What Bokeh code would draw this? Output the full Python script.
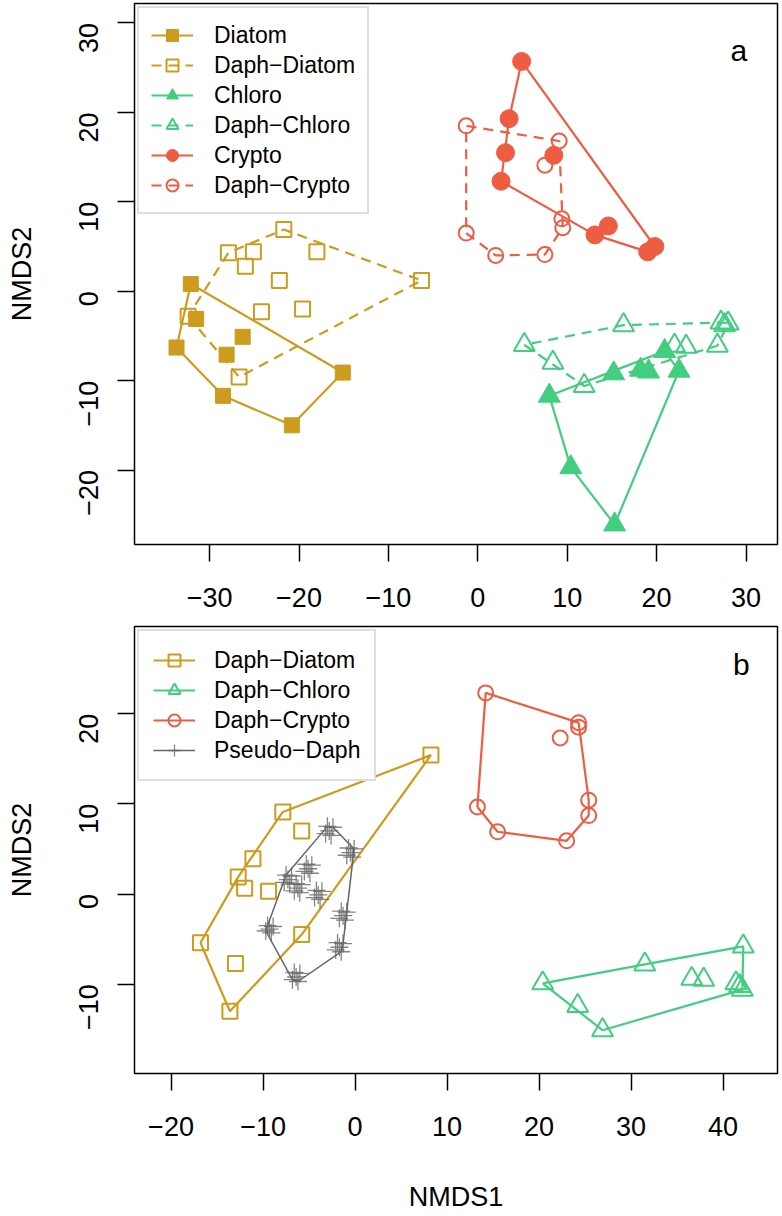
import math
from bokeh.plotting import figure
from bokeh.layouts import column
from bokeh.models import Legend, LegendItem, FixedTicker, Range1d
from bokeh.core.properties import value
from bokeh.embed import file_html
from bokeh.resources import INLINE

# ---------------- Panel a data ----------------
diatom_x = [-32.1, -31.5, -33.7, -26.3, -28.1, -28.5, -20.8, -15.1]
diatom_y = [0.8, -3.1, -6.3, -5.1, -7.1, -11.7, -15.0, -9.1]

daph_diatom_x = [-21.7, -27.9, -25.1, -26.0, -18.0, -22.2, -6.3, -24.2, -19.6, -32.4, -26.7]
daph_diatom_y = [6.9, 4.3, 4.4, 2.8, 4.4, 1.2, 1.2, -2.3, -2.0, -2.8, -9.6]

chloro_x = [8.0, 10.4, 15.3, 22.5, 20.9, 18.2, 19.1, 15.2]
chloro_y = [-11.7, -19.7, -26.1, -8.9, -6.7, -8.8, -9.0, -9.2]

daph_chloro_x = [5.2, 8.4, 11.9, 16.3, 22.0, 23.3, 26.8, 27.2, 28.0, 27.6]
daph_chloro_y = [-6.0, -8.0, -10.6, -3.8, -6.1, -6.2, -6.1, -3.5, -3.6, -3.8]

crypto_x = [4.9, 3.5, 3.1, 2.6, 8.5, 13.1, 14.6, 19.0, 19.8]
crypto_y = [25.7, 19.3, 15.5, 12.3, 15.2, 6.3, 7.3, 4.4, 5.0]

daph_crypto_x = [-1.3, -1.3, 2.0, 7.5, 9.1, 7.5, 9.4, 9.5]
daph_crypto_y = [18.5, 6.5, 4.0, 4.1, 16.8, 14.1, 8.1, 7.1]

# ---------------- Panel b data ----------------
b_diatom_x = [8.25, -7.85, -5.8, -11.1, -12.7, -12.0, -9.4, -16.8, -5.8, -13.0, -13.6]
b_diatom_y = [15.4, 9.1, 7.0, 3.9, 1.9, 0.65, 0.3, -5.4, -4.5, -7.7, -13.0]

b_chloro_x = [20.4, 24.2, 26.9, 31.5, 36.6, 37.9, 42.2, 41.4, 41.8, 42.1]
b_chloro_y = [-9.9, -12.4, -15.1, -7.8, -9.4, -9.5, -5.8, -9.9, -10.2, -10.6]

b_crypto_x = [14.2, 24.3, 24.3, 22.3, 13.3, 15.5, 23.0, 25.4, 25.4]
b_crypto_y = [22.3, 19.0, 18.5, 17.3, 9.65, 6.9, 5.9, 10.4, 8.7]

pseudo_x = [
    -2.8, -2.4, -3.2, -2.6, -3.0,
    -0.5, -0.1, -0.9, -0.3, -0.7,
    -5.1, -4.7, -5.5, -4.9, -5.3,
    -7.3, -6.9, -7.7, -7.1, -7.5,
    -6.2, -5.8, -6.6, -6.0, -6.4,
    -4.0, -3.6, -4.4, -3.8, -4.2,
    -1.3, -0.9, -1.7, -1.1, -1.5,
    -9.3, -8.9, -9.7, -9.1, -9.5,
    -1.7, -1.3, -2.1, -1.5, -1.9,
    -6.4, -6.0, -6.8, -6.2, -6.6,
]
pseudo_y = [
    7.0, 7.4, 6.7, 6.5, 7.5,
    4.6, 5.0, 4.3, 4.1, 5.1,
    2.8, 3.2, 2.5, 2.3, 3.3,
    1.6, 2.0, 1.3, 1.1, 2.1,
    0.65, 1.05, 0.35, 0.15, 1.15,
    -0.1, 0.3, -0.4, -0.6, 0.4,
    -2.4, -2.0, -2.7, -2.9, -1.9,
    -3.9, -3.6, -4.1, -4.3, -3.5,
    -5.9, -5.5, -6.2, -6.4, -5.4,
    -9.2, -8.8, -9.5, -9.7, -8.7,
]

xa_ticks = [-30, -20, -10, 0, 10, 20, 30]
ya_ticks = [-20, -10, 0, 10, 20, 30]
xb_ticks = [-20, -10, 0, 10, 20, 30, 40]
yb_ticks = [-10, 0, 10, 20]

GOLD = "#CD9B1D"
GREEN = "#43CD80"
RED = "#EE5C42"
GREY = "#666666"
FONT = "Liberation Sans"


def hull(xs, ys):
    pts = sorted(set(zip(xs, ys)))

    def cross(o, a, b):
        return (a[0] - o[0]) * (b[1] - o[1]) - (a[1] - o[1]) * (b[0] - o[0])

    lower = []
    for p in pts:
        while len(lower) >= 2 and cross(lower[-2], lower[-1], p) <= 0:
            lower.pop()
        lower.append(p)
    upper = []
    for p in reversed(pts):
        while len(upper) >= 2 and cross(upper[-2], upper[-1], p) <= 0:
            upper.pop()
        upper.append(p)
    h = lower[:-1] + upper[:-1]
    h.append(h[0])
    return [q[0] for q in h], [q[1] for q in h]


def minus(t):
    return str(t).replace("-", "\u2212")


def make_fig(height, xr, yr, mb_top, mb_bottom, xticks, yticks):
    p = figure(width=779, height=height, x_range=Range1d(*xr), y_range=Range1d(*yr),
               output_backend="svg", toolbar_location=None,
               min_border_left=134, min_border_right=2,
               min_border_top=mb_top, min_border_bottom=mb_bottom)
    p.xgrid.visible = False
    p.ygrid.visible = False
    p.outline_line_color = "black"
    p.outline_line_width = 1.5
    p.outline_line_alpha = 1.0
    p.background_fill_color = "white"
    p.border_fill_color = "white"
    p.xaxis.ticker = FixedTicker(ticks=xticks)
    p.yaxis.ticker = FixedTicker(ticks=yticks)
    p.xaxis.major_label_overrides = {t: minus(t) for t in xticks}
    p.yaxis.major_label_overrides = {t: minus(t) for t in yticks}
    for ax in (p.xaxis[0], p.yaxis[0]):
        ax.axis_line_color = None
        ax.major_tick_out = 17
        ax.major_tick_in = 0
        ax.minor_tick_line_color = None
        ax.major_tick_line_width = 1.5
        ax.major_tick_line_color = "black"
        ax.major_label_text_font = FONT
        ax.major_label_text_font_size = "27px"
        ax.major_label_text_color = "black"
        ax.axis_label_text_font = FONT
        ax.axis_label_text_font_size = "27px"
        ax.axis_label_text_font_style = "normal"
        ax.axis_label_text_color = "black"
    p.xaxis.major_label_standoff = 26
    p.xaxis.axis_label_standoff = 43
    p.yaxis.major_label_standoff = 29
    p.yaxis.axis_label_standoff = 30
    p.yaxis.major_label_orientation = math.pi / 2
    return p


def add_group(p, xs, ys, color, marker, size, filled, dash):
    hx, hy = hull(xs, ys)
    lr = p.line(hx, hy, line_color=color, line_width=2.2, line_dash=dash)
    if filled:
        sr = p.scatter(xs, ys, marker=marker, size=size, fill_color=color,
                       line_color=color, line_width=1)
    else:
        sr = p.scatter(xs, ys, marker=marker, size=size, fill_color=None,
                       line_color=color, line_width=2)
    return [lr, sr]


def legend(items, padding, glyph_width, standoff, label_width):
    return Legend(items=[LegendItem(label=l, renderers=r) for l, r in items],
                  location="top_left",
                  label_text_font=FONT, label_text_font_size="23px", label_text_color="black",
                  glyph_width=glyph_width, glyph_height=30, label_height=22, spacing=0,
                  padding=padding, margin=3, border_line_color="#BEBEBE",
                  border_line_width=2, background_fill_color="white",
                  background_fill_alpha=1.0, label_standoff=standoff, label_width=label_width)


# ---------------- Panel a ----------------
pa = make_fig(619, (-38.40, 33.52), (-28.33, 32.18), 3, 75, xa_ticks, ya_ticks)
pa.yaxis.axis_label = "NMDS2"

ga = [
    ("Diatom", add_group(pa, diatom_x, diatom_y, GOLD, "square", 15, True, "solid")),
    ("Daph\u2212Diatom", add_group(pa, daph_diatom_x, daph_diatom_y, GOLD, "square", 15, False, "10 7")),
    ("Chloro", add_group(pa, chloro_x, chloro_y, GREEN, "triangle", 22, True, "solid")),
    ("Daph\u2212Chloro", add_group(pa, daph_chloro_x, daph_chloro_y, GREEN, "triangle", 21, False, "10 7")),
    ("Crypto", add_group(pa, crypto_x, crypto_y, RED, "circle", 18, True, "solid")),
    ("Daph\u2212Crypto", add_group(pa, daph_crypto_x, daph_crypto_y, RED, "circle", 15, False, "10 7")),
]
pa.text(x=[29.2], y=[26.9], text=["a"], text_font=value(FONT), text_font_size="30px",
        text_align="center", text_baseline="middle", text_color="black")
pa.add_layout(legend(ga, 12, 42, 21, 140))

# ---------------- Panel b ----------------
pb = make_fig(595, (-23.97, 45.92), (-19.90, 29.66), 7, 133, xb_ticks, yb_ticks)
pb.yaxis.axis_label = "NMDS2"
pb.xaxis.axis_label = "NMDS1"

gb = [
    ("Daph\u2212Diatom", add_group(pb, b_diatom_x, b_diatom_y, GOLD, "square", 15, False, "solid")),
    ("Daph\u2212Chloro", add_group(pb, b_chloro_x, b_chloro_y, GREEN, "triangle", 21, False, "solid")),
    ("Daph\u2212Crypto", add_group(pb, b_crypto_x, b_crypto_y, RED, "circle", 15, False, "solid")),
]
phx, phy = hull(pseudo_x, pseudo_y)
pl = pb.line(phx, phy, line_color=GREY, line_width=1.5)
ps = pb.scatter(pseudo_x, pseudo_y, marker="cross", size=18, line_color=GREY,
                line_width=1.3, line_alpha=0.8)
gb.append(("Pseudo\u2212Daph", [pl, ps]))
pb.text(x=[42.0], y=[25.4], text=["b"], text_font=value(FONT), text_font_size="30px",
        text_align="center", text_baseline="middle", text_color="black")
pb.add_layout(legend(gb, 14, 42, 19, 142))

layout = column(pa, pb, spacing=0)
open("out.html", "w").write(file_html(layout, INLINE))
